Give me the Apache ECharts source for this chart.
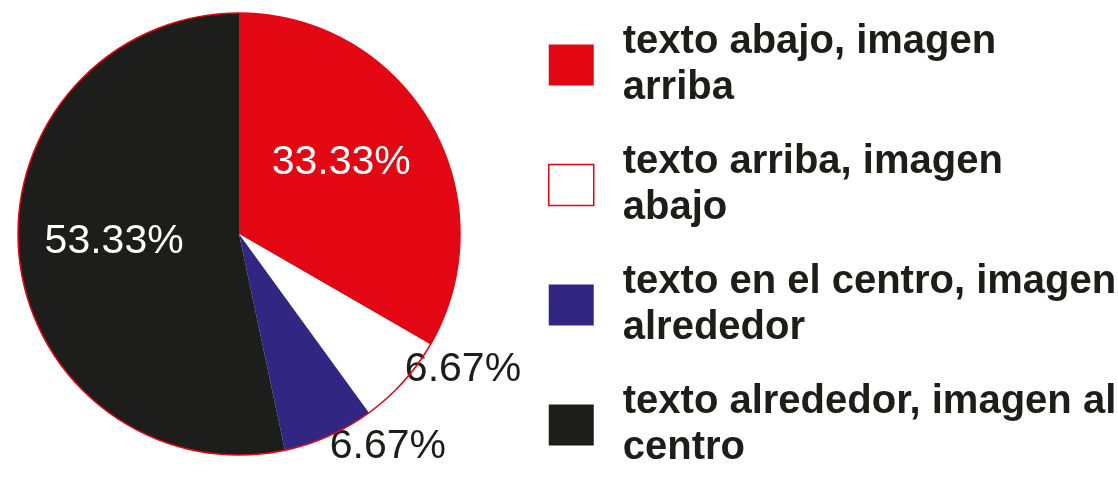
<!DOCTYPE html>
<html>
<head>
<meta charset="utf-8">
<script src="https://cdn.jsdelivr.net/npm/echarts@6/dist/echarts.min.js"></script>
<style>html,body{margin:0;padding:0;background:#fff}#c{width:1118px;height:490px}</style>
</head>
<body>
<div id="c"></div>
<script>
const categories = ['texto abajo, imagen arriba', 'texto arriba, imagen abajo', 'texto en el centro, imagen alrededor', 'texto alrededor, imagen al centro'];
const legendLabels = ['texto abajo, imagen\narriba', 'texto arriba, imagen\nabajo', 'texto en el centro, imagen\nalrededor', 'texto alrededor, imagen al\ncentro'];
const values = [33.33, 6.67, 6.67, 53.33];
const colors = ['#e30613', '#ffffff', '#312783', '#1d1d1b'];

const RED = '#e30613', INK = '#1d1d1b';
const font = '"Liberation Sans", Arial, sans-serif';

const pieData = categories.map((name, i) => {
  const d = { name, value: values[i], itemStyle: { color: colors[i] } };
  if (i === 1) {
    d.label = { position: 'outside', color: INK };
    d.labelLine = { show: false, length: -18, length2: 10 };
  } else if (i === 2) {
    d.label = { position: 'outside', color: INK };
    d.labelLine = { show: false, length: 12, length2: -9 };
  }
  return d;
});

const chart = echarts.init(document.getElementById('c'), null, { renderer: 'canvas' });
chart.setOption({
  animation: false,
  backgroundColor: '#ffffff',
  legend: {
    orient: 'vertical',
    left: 548,
    top: 19,
    padding: 0,
    itemWidth: 45,
    itemHeight: 41,
    itemGap: 28,
    icon: 'rect',
    selectedMode: false,
    data: categories.map((name, i) => i === 1
      ? { name, itemStyle: { color: '#ffffff', borderColor: RED, borderWidth: 1.5 } }
      : { name }),
    formatter: name => legendLabels[categories.indexOf(name)],
    textStyle: {
      fontFamily: font,
      fontWeight: 'bold',
      fontSize: 40,
      lineHeight: 46,
      color: INK,
      padding: [0, 0, 0, 24]
    }
  },
  series: [
    {
      type: 'pie',
      center: [239, 234],
      radius: [0, 221],
      startAngle: 90,
      clockwise: true,
      silent: true,
      avoidLabelOverlap: false,
      legendHoverLink: false,
      itemStyle: { borderWidth: 0 },
      label: {
        show: true,
        position: 'inside',
        formatter: p => values[p.dataIndex].toFixed(2) + '%',
        fontFamily: font,
        fontSize: 41,
        color: '#ffffff'
      },
      labelLayout: p => {
        if (p.dataIndex === 0) return { dx: 4, dy: -15 };
        if (p.dataIndex === 3) return { dx: -12, dy: -4 };
        return {};
      },
      data: pieData,
      z: 2
    },
    {
      type: 'pie',
      center: [239, 234],
      radius: [0, 221],
      silent: true,
      legendHoverLink: false,
      label: { show: false },
      labelLine: { show: false },
      itemStyle: { color: 'rgba(0,0,0,0)', borderColor: RED, borderWidth: 1.5 },
      data: [{ name: 'outline', value: 1 }],
      z: 3
    }
  ]
});
</script>
</body>
</html>
